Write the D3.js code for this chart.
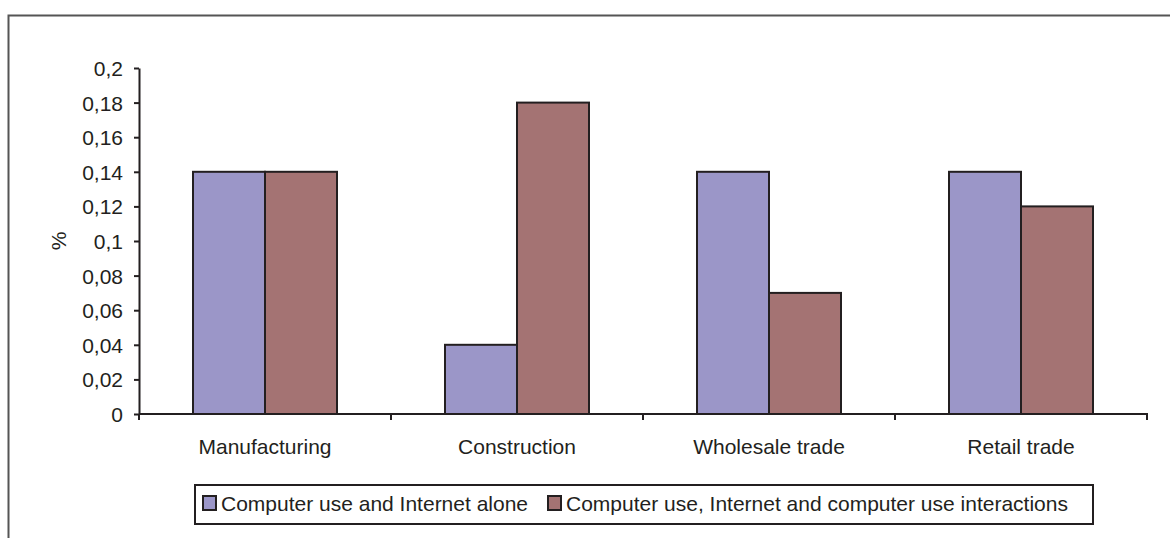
<!DOCTYPE html>
<html><head><meta charset="utf-8">
<script src="https://cdn.jsdelivr.net/npm/d3@7"></script>
<style>body{margin:0;background:#fff}svg{display:block}text{font-family:"Liberation Sans",Arial,sans-serif;fill:#231f20}</style>
</head><body><svg id="c" width="1170" height="538"></svg>
<script>
const categories = ["Manufacturing","Construction","Wholesale trade","Retail trade"];
const seriesNames = ["Computer use and Internet alone","Computer use, Internet and computer use interactions"];
const seriesA = [0.14,0.04,0.14,0.14];
const seriesB = [0.14,0.18,0.07,0.12];
const yTicks = [0,0.02,0.04,0.06,0.08,0.1,0.12,0.14,0.16,0.18,0.2];
const colors = ["#9b96c8","#a47373"];

const svg = d3.select("#c");
const ink = "#231f20";
const fs = 21;
// outer frame
svg.append("path").attr("d","M8.5,538 V15.5 H1170").attr("fill","none").attr("stroke","#555").attr("stroke-width",2);

const x0 = d3.scaleBand().domain(categories).range([139,1147]);
const x1 = d3.scaleBand().domain([0,1]).range([0,x0.bandwidth()]).paddingOuter(0.75).paddingInner(0);
const y = d3.scaleLinear().domain([0,0.2]).range([414,68]);

const data = categories.map((c,i)=>({c, v:[seriesA[i],seriesB[i]]}));
const g = svg.append("g");
data.forEach(d=>{
  d.v.forEach((v,k)=>{
    g.append("rect")
      .attr("x",x0(d.c)+x1(k)).attr("y",y(v))
      .attr("width",x1.bandwidth()).attr("height",y(0)-y(v))
      .attr("fill",colors[k]).attr("stroke",ink).attr("stroke-width",2);
  });
});

// y axis
const yAxis = d3.axisLeft(y).tickValues(yTicks).tickSize(5).tickSizeOuter(0)
  .tickFormat(d=>String(+d.toFixed(2)).replace(".",","));
const ya = svg.append("g").attr("transform","translate(139,0)").call(yAxis);
ya.attr("font-size",null).attr("font-family",null);
ya.select(".domain").attr("stroke",ink).attr("stroke-width",2);
ya.selectAll(".tick line").attr("stroke",ink).attr("stroke-width",2);
ya.selectAll("text").style("font-size",fs+"px").attr("x",-16).attr("dy","0.36em").attr("fill",ink);

// x axis
const xa = svg.append("g").attr("transform","translate(0,414)");
xa.append("line").attr("x1",139).attr("x2",1148).attr("y1",0).attr("y2",0).attr("stroke",ink).attr("stroke-width",2);
const bounds = categories.map(c=>x0(c)).concat([x0.range()[1]]);
xa.selectAll(".xt").data(bounds).join("line").attr("x1",d=>d).attr("x2",d=>d).attr("y1",0).attr("y2",6).attr("stroke",ink).attr("stroke-width",2);
xa.selectAll(".xl").data(categories).join("text")
  .attr("x",d=>x0(d)+x0.bandwidth()/2).attr("y",40).attr("text-anchor","middle").style("font-size",fs+"px").text(d=>d);

// y label
svg.append("text").attr("transform","translate(66,241) rotate(-90)").attr("text-anchor","middle").style("font-size",fs+"px").text("%");

// legend
const lg = svg.append("g");
lg.append("rect").attr("x",195).attr("y",485).attr("width",898).attr("height",39).attr("fill","#fff").attr("stroke",ink).attr("stroke-width",2);
const lx = [202, 547];
seriesNames.forEach((n,k)=>{
  lg.append("rect").attr("x",lx[k]+1).attr("y",496).attr("width",13).attr("height",14).attr("fill",colors[k]).attr("stroke",ink).attr("stroke-width",2);
  lg.append("text").attr("x",lx[k]+19).attr("y",511).style("font-size",fs+"px").text(n);
});
</script></body></html>
